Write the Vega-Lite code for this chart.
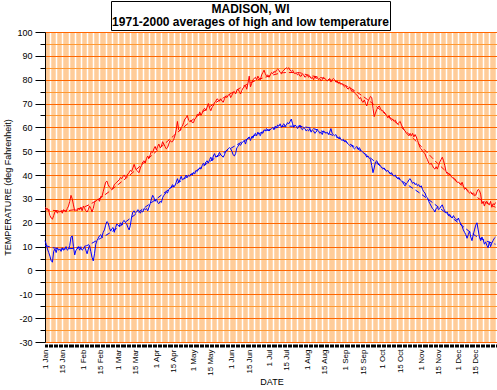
{
"$schema": "https://vega.github.io/schema/vega-lite/v6.json",
"padding": {"left": 3, "top": 0, "right": 0, "bottom": 0},
"background": "white",
"spacing": -3,
"config": {"font": "Liberation Sans", "view": {"stroke": null}, "axis": {"labelOverlap": false}},
"datasets": {
"daily": [
{"d":1,"h":26.5,"l":12.5},{"d":2,"h":26,"l":11},{"d":3,"h":26,"l":9},{"d":4,"h":25,"l":7.5},{"d":5,"h":23,"l":6},{"d":6,"h":22,"l":4},{"d":7,"h":21.5,"l":3.5},{"d":8,"h":23,"l":8},{"d":9,"h":24.5,"l":9},{"d":10,"h":25,"l":7.5},
{"d":11,"h":24,"l":9.5},{"d":12,"h":25,"l":8.5},{"d":13,"h":24.5,"l":9},{"d":14,"h":25,"l":8},{"d":15,"h":24,"l":9.5},{"d":16,"h":25.5,"l":8.5},{"d":17,"h":25,"l":9},{"d":18,"h":24.5,"l":10},{"d":19,"h":26,"l":8.5},{"d":20,"h":27,"l":9},
{"d":21,"h":29,"l":10.5},{"d":22,"h":31.5,"l":14},{"d":23,"h":30,"l":14.5},{"d":24,"h":27.5,"l":10},{"d":25,"h":25,"l":6.5},{"d":26,"h":25.5,"l":8.5},{"d":27,"h":25,"l":9},{"d":28,"h":26,"l":10},{"d":29,"h":25.5,"l":8.5},{"d":30,"h":26.5,"l":9.5},
{"d":31,"h":25,"l":8.5},{"d":32,"h":27,"l":9},{"d":33,"h":26,"l":10},{"d":34,"h":25,"l":8.5},{"d":35,"h":24.5,"l":7},{"d":36,"h":25.5,"l":9},{"d":37,"h":27,"l":10.5},{"d":38,"h":26,"l":8},{"d":39,"h":24.5,"l":5.5},{"d":40,"h":26,"l":4},
{"d":41,"h":28.5,"l":7},{"d":42,"h":29,"l":11},{"d":43,"h":29.5,"l":12.5},{"d":44,"h":30,"l":13.5},{"d":45,"h":29,"l":14.5},{"d":46,"h":31,"l":15},{"d":47,"h":31,"l":14},{"d":48,"h":33,"l":16},{"d":49,"h":35,"l":17},{"d":50,"h":37,"l":19},
{"d":51,"h":37.5,"l":20.5},{"d":52,"h":36,"l":20},{"d":53,"h":35,"l":18},{"d":54,"h":34.5,"l":16.5},{"d":55,"h":34,"l":17.5},{"d":56,"h":34.5,"l":18},{"d":57,"h":36,"l":16},{"d":58,"h":36.5,"l":18},{"d":59,"h":37,"l":19.5},{"d":60,"h":37.5,"l":19},
{"d":61,"h":38,"l":18.5},{"d":62,"h":39,"l":20},{"d":63,"h":38.5,"l":19},{"d":64,"h":39.5,"l":20.5},{"d":65,"h":40,"l":21},{"d":66,"h":39,"l":20},{"d":67,"h":39.5,"l":19.5},{"d":68,"h":40.5,"l":18},{"d":69,"h":41,"l":17},{"d":70,"h":42,"l":19},
{"d":71,"h":41.5,"l":22.5},{"d":72,"h":43,"l":24.5},{"d":73,"h":44.5,"l":25},{"d":74,"h":43,"l":24},{"d":75,"h":42,"l":24.5},{"d":76,"h":41.5,"l":25.5},{"d":77,"h":41,"l":25},{"d":78,"h":43,"l":24},{"d":79,"h":44,"l":25},{"d":80,"h":45.5,"l":24.5},
{"d":81,"h":46,"l":26},{"d":82,"h":45,"l":25.5},{"d":83,"h":47,"l":26},{"d":84,"h":48,"l":25},{"d":85,"h":47,"l":26.5},{"d":86,"h":48.5,"l":28},{"d":87,"h":50,"l":30},{"d":88,"h":49.5,"l":31.5},{"d":89,"h":51,"l":30.5},{"d":90,"h":52,"l":29},
{"d":91,"h":50.5,"l":30},{"d":92,"h":52,"l":28.5},{"d":93,"h":53,"l":28},{"d":94,"h":51.5,"l":29},{"d":95,"h":52,"l":28.5},{"d":96,"h":54,"l":30.5},{"d":97,"h":53,"l":31.5},{"d":98,"h":52,"l":32},{"d":99,"h":51,"l":33},{"d":100,"h":51.5,"l":32.5},
{"d":101,"h":53,"l":34},{"d":102,"h":54.5,"l":34.5},{"d":103,"h":54,"l":35},{"d":104,"h":54,"l":36},{"d":105,"h":55,"l":35},{"d":106,"h":56.5,"l":35.5},{"d":107,"h":59,"l":37},{"d":108,"h":62.5,"l":38.5},{"d":109,"h":59,"l":37},{"d":110,"h":58.5,"l":38},
{"d":111,"h":60,"l":39.5},{"d":112,"h":60.5,"l":38},{"d":113,"h":62,"l":38.5},{"d":114,"h":63.5,"l":39},{"d":115,"h":64,"l":40},{"d":116,"h":65,"l":39},{"d":117,"h":63,"l":40},{"d":118,"h":62.5,"l":39.5},{"d":119,"h":63,"l":40.5},{"d":120,"h":62,"l":40},
{"d":121,"h":62,"l":41},{"d":122,"h":63.5,"l":40.5},{"d":123,"h":64,"l":42},{"d":124,"h":65.5,"l":41.5},{"d":125,"h":65,"l":42.5},{"d":126,"h":66.5,"l":43},{"d":127,"h":65,"l":42.5},{"d":128,"h":66,"l":44},{"d":129,"h":67.5,"l":45},{"d":130,"h":68,"l":44},
{"d":131,"h":67,"l":45.5},{"d":132,"h":68.5,"l":46},{"d":133,"h":70,"l":45},{"d":134,"h":68,"l":46.5},{"d":135,"h":67,"l":47.5},{"d":136,"h":68.5,"l":46},{"d":137,"h":69,"l":48},{"d":138,"h":70.5,"l":49},{"d":139,"h":71,"l":47.5},{"d":140,"h":72,"l":48},
{"d":141,"h":71.5,"l":48.5},{"d":142,"h":71,"l":49.5},{"d":143,"h":72,"l":48.5},{"d":144,"h":71,"l":48},{"d":145,"h":70.5,"l":47.5},{"d":146,"h":72,"l":48.5},{"d":147,"h":73,"l":50},{"d":148,"h":72.5,"l":50.5},{"d":149,"h":73.5,"l":51},{"d":150,"h":74,"l":51.5},
{"d":151,"h":72.5,"l":51},{"d":152,"h":73.5,"l":50},{"d":153,"h":74.5,"l":48.5},{"d":154,"h":75,"l":48},{"d":155,"h":74,"l":49},{"d":156,"h":75.5,"l":51.5},{"d":157,"h":76,"l":52},{"d":158,"h":75,"l":53},{"d":159,"h":74,"l":52.5},{"d":160,"h":75.5,"l":53.5},
{"d":161,"h":76.5,"l":54},{"d":162,"h":77,"l":54.5},{"d":163,"h":77.5,"l":53},{"d":164,"h":76,"l":55},{"d":165,"h":78.5,"l":55.5},{"d":166,"h":81.5,"l":56},{"d":167,"h":77,"l":54.5},{"d":168,"h":78.5,"l":56},{"d":169,"h":80,"l":55.5},{"d":170,"h":80.5,"l":57},
{"d":171,"h":81,"l":57.5},{"d":172,"h":80,"l":56.5},{"d":173,"h":81.5,"l":58},{"d":174,"h":80.5,"l":57},{"d":175,"h":80,"l":56.5},{"d":176,"h":82,"l":58},{"d":177,"h":83,"l":57.5},{"d":178,"h":84,"l":59},{"d":179,"h":82.5,"l":58.5},{"d":180,"h":81.5,"l":59.5},
{"d":181,"h":82,"l":59},{"d":182,"h":81,"l":58.5},{"d":183,"h":82,"l":59},{"d":184,"h":83,"l":59.5},{"d":185,"h":82.5,"l":60},{"d":186,"h":83.5,"l":59},{"d":187,"h":83,"l":60.5},{"d":188,"h":84,"l":60},{"d":189,"h":84.5,"l":61},{"d":190,"h":84,"l":60.5},
{"d":191,"h":83,"l":61.5},{"d":192,"h":82.5,"l":60},{"d":193,"h":83.5,"l":61},{"d":194,"h":84,"l":61.5},{"d":195,"h":84.5,"l":60.5},{"d":196,"h":85,"l":61},{"d":197,"h":84.5,"l":62},{"d":198,"h":85,"l":61.5},{"d":199,"h":84,"l":62.5},{"d":200,"h":83.5,"l":63.5},
{"d":201,"h":84,"l":61.5},{"d":202,"h":83,"l":60},{"d":203,"h":82.5,"l":61},{"d":204,"h":83,"l":60.5},{"d":205,"h":82,"l":59.5},{"d":206,"h":82.5,"l":60},{"d":207,"h":81.5,"l":61},{"d":208,"h":81.5,"l":59.5},{"d":209,"h":82.5,"l":59},{"d":210,"h":82,"l":60},
{"d":211,"h":81,"l":59.5},{"d":212,"h":81.5,"l":58.5},{"d":213,"h":82,"l":59},{"d":214,"h":81,"l":58.5},{"d":215,"h":81.5,"l":59.5},{"d":216,"h":80.5,"l":58},{"d":217,"h":81,"l":59},{"d":218,"h":80,"l":58.5},{"d":219,"h":81.5,"l":57.5},{"d":220,"h":80.5,"l":58},
{"d":221,"h":81,"l":59},{"d":222,"h":80,"l":58.5},{"d":223,"h":80.5,"l":57.5},{"d":224,"h":79.5,"l":58},{"d":225,"h":80,"l":57},{"d":226,"h":81,"l":58.5},{"d":227,"h":80.5,"l":58},{"d":228,"h":80,"l":57.5},{"d":229,"h":79.5,"l":58},{"d":230,"h":80,"l":57},
{"d":231,"h":80.5,"l":58},{"d":232,"h":79,"l":59.5},{"d":233,"h":80,"l":57.5},{"d":234,"h":80.5,"l":57},{"d":235,"h":80,"l":56.5},{"d":236,"h":79,"l":57},{"d":237,"h":79.5,"l":56},{"d":238,"h":78.5,"l":55.5},{"d":239,"h":79,"l":56},{"d":240,"h":78,"l":55},
{"d":241,"h":78.5,"l":54.5},{"d":242,"h":77.5,"l":55},{"d":243,"h":77,"l":54},{"d":244,"h":77.5,"l":54.5},{"d":245,"h":76.5,"l":53.5},{"d":246,"h":76,"l":53},{"d":247,"h":77,"l":52.5},{"d":248,"h":76,"l":52},{"d":249,"h":75,"l":52.5},{"d":250,"h":75.5,"l":51.5},
{"d":251,"h":74.5,"l":51},{"d":252,"h":74,"l":51.5},{"d":253,"h":73.5,"l":52},{"d":254,"h":73,"l":51},{"d":255,"h":72,"l":51.5},{"d":256,"h":72.5,"l":50.5},{"d":257,"h":71,"l":50},{"d":258,"h":70.5,"l":49.5},{"d":259,"h":71.5,"l":49},{"d":260,"h":70,"l":48.5},
{"d":261,"h":69,"l":47.5},{"d":262,"h":71,"l":48},{"d":263,"h":72,"l":47},{"d":264,"h":73,"l":46.5},{"d":265,"h":72.5,"l":44},{"d":266,"h":68,"l":41},{"d":267,"h":64.5,"l":43},{"d":268,"h":66,"l":45.5},{"d":269,"h":67.5,"l":46},{"d":270,"h":68.5,"l":45},
{"d":271,"h":69,"l":44.5},{"d":272,"h":68,"l":44},{"d":273,"h":67,"l":43},{"d":274,"h":67,"l":42.5},{"d":275,"h":66.5,"l":43},{"d":276,"h":65.5,"l":42},{"d":277,"h":65,"l":41.5},{"d":278,"h":64,"l":42},{"d":279,"h":65,"l":41},{"d":280,"h":63.5,"l":40.5},
{"d":281,"h":63,"l":41},{"d":282,"h":63.5,"l":40},{"d":283,"h":62.5,"l":39.5},{"d":284,"h":63,"l":40},{"d":285,"h":62,"l":39},{"d":286,"h":61.5,"l":38.5},{"d":287,"h":62,"l":39},{"d":288,"h":62.5,"l":38},{"d":289,"h":61,"l":37.5},{"d":290,"h":60,"l":37},
{"d":291,"h":59,"l":36},{"d":292,"h":58.5,"l":35.5},{"d":293,"h":57.5,"l":36.5},{"d":294,"h":57,"l":37},{"d":295,"h":56.5,"l":38},{"d":296,"h":57.5,"l":38.5},{"d":297,"h":56.5,"l":37.5},{"d":298,"h":57.5,"l":36.5},{"d":299,"h":56,"l":37},{"d":300,"h":57,"l":36},
{"d":301,"h":56,"l":36.5},{"d":302,"h":54.5,"l":35.5},{"d":303,"h":53,"l":36},{"d":304,"h":51.5,"l":35},{"d":305,"h":51,"l":35.5},{"d":306,"h":50,"l":34},{"d":307,"h":49.5,"l":33},{"d":308,"h":49,"l":32.5},{"d":309,"h":47.5,"l":31},{"d":310,"h":46.5,"l":30.5},
{"d":311,"h":45,"l":29},{"d":312,"h":44.5,"l":28},{"d":313,"h":45,"l":27},{"d":314,"h":44,"l":26},{"d":315,"h":43,"l":25.5},{"d":316,"h":42.5,"l":24.5},{"d":317,"h":43.5,"l":26},{"d":318,"h":42.5,"l":26.5},{"d":319,"h":44,"l":25.5},{"d":320,"h":45.5,"l":26},
{"d":321,"h":46.5,"l":27},{"d":322,"h":47.5,"l":27.5},{"d":323,"h":46,"l":26},{"d":324,"h":44,"l":25},{"d":325,"h":41.5,"l":24},{"d":326,"h":40.5,"l":24.5},{"d":327,"h":40,"l":23},{"d":328,"h":40.5,"l":23.5},{"d":329,"h":39.5,"l":22.5},{"d":330,"h":39,"l":22},
{"d":331,"h":38.5,"l":23},{"d":332,"h":38,"l":22},{"d":333,"h":37.5,"l":21.5},{"d":334,"h":37,"l":21},{"d":335,"h":37,"l":22},{"d":336,"h":36.5,"l":20.5},{"d":337,"h":36,"l":19.5},{"d":338,"h":37,"l":18.5},{"d":339,"h":35.5,"l":17},{"d":340,"h":34,"l":16},
{"d":341,"h":34.5,"l":15},{"d":342,"h":33.5,"l":13.5},{"d":343,"h":33,"l":15},{"d":344,"h":32.5,"l":16.5},{"d":345,"h":33,"l":14},{"d":346,"h":32,"l":12.5},{"d":347,"h":32.5,"l":15},{"d":348,"h":32,"l":17},{"d":349,"h":31.5,"l":19},{"d":350,"h":33,"l":20},
{"d":351,"h":34,"l":17},{"d":352,"h":33.5,"l":14},{"d":353,"h":32,"l":12.5},{"d":354,"h":28,"l":14},{"d":355,"h":29,"l":13},{"d":356,"h":27,"l":11},{"d":357,"h":28.5,"l":12},{"d":358,"h":29,"l":10.5},{"d":359,"h":28,"l":9.5},{"d":360,"h":27.5,"l":12},
{"d":361,"h":29,"l":10},{"d":362,"h":26.5,"l":11.5},{"d":363,"h":28,"l":12.5},{"d":364,"h":27.5,"l":13.5},{"d":365,"h":28.5,"l":14}
],
"normal": [
{"d":1,"nh":25.5,"nl":10.5},{"d":15,"nh":25,"nl":9},{"d":32,"nh":26.5,"nl":10},{"d":46,"nh":30.5,"nl":13.5},{"d":60,"nh":36,"nl":18},{"d":74,"nh":42,"nl":23.5},{"d":91,"nh":50,"nl":30},{"d":105,"nh":56.5,"nl":35.5},{"d":121,"nh":63.5,"nl":41},{"d":135,"nh":69,"nl":46},{"d":152,"nh":74.5,"nl":51.5},{"d":166,"nh":78.5,"nl":55.5},{"d":182,"nh":81.5,"nl":59},{"d":196,"nh":83,"nl":60.5},{"d":205,"nh":83,"nl":60.5},{"d":213,"nh":82,"nl":60},{"d":227,"nh":80.5,"nl":58},{"d":244,"nh":77.5,"nl":54},{"d":258,"nh":73,"nl":49.5},{"d":274,"nh":66.5,"nl":43},{"d":288,"nh":60.5,"nl":38},{"d":305,"nh":52,"nl":32},{"d":319,"nh":44.5,"nl":26.5},{"d":335,"nh":37,"nl":20},{"d":349,"nh":31,"nl":14.5},{"d":365,"nh":26.5,"nl":11}
],
"titlebox": [{"t": "MADISON, WI\n1971-2000 averages of high and low temperature"}],
"none": []
},
"vconcat": [
{
"spacing": 0,
"hconcat": [
{
"width": 65, "height": 29,
"data": {"name": "none"},
"mark": {"type": "point", "opacity": 0},
"encoding": {}
},
{
"width": 279, "height": 29,
"data": {"name": "titlebox"},
"view": {"stroke": "black", "strokeWidth": 1, "fill": "white"},
"mark": {"type": "text", "font": "Liberation Sans", "fontWeight": "bold", "fontSize": 12, "lineHeight": 13, "lineBreak": "\n", "align": "center", "baseline": "top", "dy": -12, "color": "black"},
"encoding": {"text": {"field": "t", "type": "nominal"}}
}
]
},
{
"width": 453, "height": 310,
"view": {"fill": "#FFCC99", "stroke": null},
"encoding": {
"x": {"field": "d", "type": "quantitative", "scale": {"domain": [1, 367], "nice": false, "zero": false},
"axis": {"title": "DATE", "titleFontSize": 9, "titleFontWeight": "normal", "titleColor": "black", "titlePadding": 2,
"tickCount": 366, "domain": false, "offset": 2, "ticks": true, "tickSize": 3, "tickWidth": 1, "tickColor": "black",
"labelAngle": -90, "labelAlign": "right", "labelBaseline": "middle", "labelFontSize": 8, "labelColor": "black", "labelPadding": 2,
"labelOverlap": false, "labelBound": false, "labelFlush": false,
"labelExpr": "['1 Jan','15 Jan','1 Feb','15 Feb','1 Mar','15 Mar','1 Apr','15 Apr','1 May','15 May','1 Jun','15 Jun','1 Jul','15 Jul','1 Aug','15 Aug','1 Sep','15 Sep','1 Oct','15 Oct','1 Nov','15 Nov','1 Dec','15 Dec'][indexof([1,15,32,46,60,74,91,105,121,135,152,166,182,196,213,227,244,258,274,288,305,319,335,349], datum.value)] || ''",
"grid": true, "gridColor": "white", "gridWidth": 1.5,
"gridOpacity": {"condition": {"test": "datum.value % 5 === 0", "value": 1}, "value": 0}}},
"y": {"field": "t", "type": "quantitative", "scale": {"domain": [-30, 100], "nice": false, "zero": false},
"axis": {"title": "TEMPERATURE (deg Fahrenheit)", "titleFontSize": 9, "titleFontWeight": "normal", "titleColor": "black", "titlePadding": 4,
"values": [-30,-25,-20,-15,-10,-5,0,5,10,15,20,25,30,35,40,45,50,55,60,65,70,75,80,85,90,95,100],
"labelExpr": "datum.value % 10 === 0 ? '' + datum.value : ''",
"labelFontSize": 9, "labelColor": "black", "labelPadding": 3, "labelOverlap": false, "labelBound": false, "labelFlush": false,
"domain": true, "domainColor": "black", "domainWidth": 1,
"tickColor": "black", "tickWidth": 1,
"tickSize": {"condition": {"test": "datum.value % 10 === 0", "value": 10}, "value": 5},
"grid": true, "gridWidth": 1,
"gridColor": {"condition": {"test": "datum.value % 10 === 0", "value": "#FF6600"}, "value": "#FF9933"}}},
"color": {"field": "s", "type": "nominal", "scale": {"domain": ["h", "l", "nh", "nl"], "range": ["#FF0000", "#0000FF", "#FF0000", "#0000FF"]}, "legend": null}
},
"layer": [
{
"data": {"name": "normal"},
"transform": [{"fold": ["nh", "nl"], "as": ["s", "t"]}],
"mark": {"type": "line", "strokeWidth": 1, "strokeDash": [5, 3], "interpolate": "monotone"}
},
{
"data": {"name": "daily"},
"transform": [{"fold": ["h", "l"], "as": ["s", "t"]}],
"mark": {"type": "line", "strokeWidth": 1}
}
]
}
]
}
